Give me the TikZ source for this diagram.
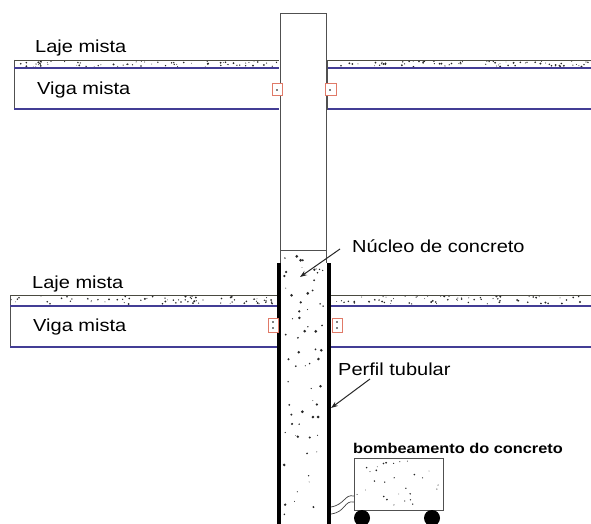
\documentclass[tikz,border=0pt]{standalone}
\usepackage{fontspec}
\setmainfont{Liberation Sans}[FakeStretch=1.15]
\usetikzlibrary{arrows.meta}
\definecolor{beamline}{HTML}{433D95}
\definecolor{slabline}{HTML}{4A4A40}
\definecolor{studcol}{HTML}{E07A68}
\definecolor{outline}{HTML}{505050}

% random stipple of concrete grains inside a rectangle: x1,y1,x2,y2,count,max extra radius
\newcommand\stippleArea[6]{%
  \foreach \k in {1,...,#5}{%
    \pgfmathsetmacro\sx{#1+(#3-#1)*rnd}%
    \pgfmathsetmacro\sy{#2+(#4-#2)*rnd}%
    \pgfmathsetmacro\sr{0.4+#6*rnd}%
    \fill[black!85] (\sx,\sy) circle[radius=\sr pt];}}

\tikzset{
  label/.style={font=\fontsize{17.4}{20}\selectfont, anchor=base west, inner sep=0pt, text=black},
  boldlabel/.style={font=\fontsize{14.2}{17}\selectfont\bfseries, anchor=base west, inner sep=0pt},
  slabtop/.style={draw=slabline, line width=0.9pt},
  beamedge/.style={draw=beamline, line width=2pt},
  thinedge/.style={draw=outline, line width=0.8pt},
  tube/.style={draw=black, line width=4pt},
  stud/.style={draw=studcol, line width=0.9pt, fill=white},
  pointer/.style={draw=black!85, line width=1pt, -{Stealth[length=7pt,width=5pt]}},
  hose/.style={draw=black!75, line width=0.7pt},
}

\begin{document}
\begin{tikzpicture}[x=1pt,y=-1pt]
\useasboundingbox[fill=white] (0,0) rectangle (591,524);
\pgfmathsetseed{4321}

% ---- column: upper shaft ----
\draw[thinedge] (280,263) -- (280,13) -- (326,13) -- (326,263);
\draw[thinedge] (280,250) -- (326,250);

% ---- concrete core inside the tubular profile ----
\stippleArea{284}{253}{324}{524}{65}{1.1}
\draw[tube] (279,263) -- (279,524);
\draw[tube] (329,263) -- (329,524);

% ---- upper floor: composite slab and beam ----
\stippleArea{15}{61}{278}{67}{70}{0.7}
\stippleArea{328}{61}{590}{67}{70}{0.7}
\draw[slabtop] (14,60) -- (279,60);
\draw[slabtop] (327,60) -- (591,60);
\draw[thinedge] (14,60) -- (14,110);
\draw[beamedge] (14,68.5) -- (279,68.5);
\draw[beamedge] (14,109.5) -- (279,109.5);
\draw[beamedge] (327,68.5) -- (591,68.5);
\draw[beamedge] (327,109.5) -- (591,109.5);
\draw[thinedge] (327,60) -- (327,110);
\draw[stud] (272,83) rectangle (282,95);
\draw[stud] (325,83) rectangle (336,95);
\fill (277,90) circle[radius=0.8pt] (330,90) circle[radius=0.8pt];

% ---- lower floor: composite slab and beam ----
\stippleArea{11}{296}{276}{304}{70}{0.7}
\stippleArea{332}{296}{590}{304}{70}{0.7}
\draw[slabtop] (10,295) -- (277,295);
\draw[slabtop] (331,295) -- (591,295);
\draw[thinedge] (10,295) -- (10,347);
\draw[beamedge] (10,306) -- (277,306);
\draw[beamedge] (10,346.5) -- (277,346.5);
\draw[beamedge] (331,306) -- (591,306);
\draw[beamedge] (331,346.5) -- (591,346.5);
\draw[stud] (268,318) rectangle (278,332);
\draw[stud] (332,318) rectangle (342,332);
\fill (273,322) circle[radius=0.8pt] (273,328) circle[radius=0.8pt]
      (337,322) circle[radius=0.8pt] (337,328) circle[radius=0.8pt];

% ---- labels ----
\node[label] (laje1) at (35,52.5) {Laje mista};
\node[label] (viga1) at (37,94.5) {Viga mista};
\node[label] (laje2) at (32,288) {Laje mista};
\node[label] (viga2) at (33,331.5) {Viga mista};
\node[label] (nucleo) at (352,252) {Núcleo de concreto};
\node[label] (perfil) at (338,375) {Perfil tubular};
\node[boldlabel] (bomba) at (353,453) {bombeamento do concreto};

% ---- pointers ----
\coordinate (nucleoFrom) at (340,249);
\coordinate (nucleoTip) at (300,277);
\coordinate (perfilFrom) at (370,379);
\coordinate (perfilTip) at (331,408);
\draw[pointer] (nucleoFrom) -- (nucleoTip);
\draw[pointer] (perfilFrom) -- (perfilTip);

% ---- concrete pump ----
\node[draw=outline, line width=0.7pt, minimum width=89pt, minimum height=52pt,
      inner sep=0pt, anchor=north west] (pump) at (354,458) {};
\stippleArea{357}{461}{440}{507}{28}{0.6}
\fill (362,518) circle[radius=8pt] (432,518) circle[radius=8pt];
\coordinate (hoseA) at (331,507);
\coordinate (hoseB) at (331,514);
\draw[hose] (pump.west |- 0,496) .. controls (344,494) and (346,504) .. (hoseA);
\draw[hose] (pump.west |- 0,502) .. controls (344,500) and (346,512) .. (hoseB);
\end{tikzpicture}
\end{document}
